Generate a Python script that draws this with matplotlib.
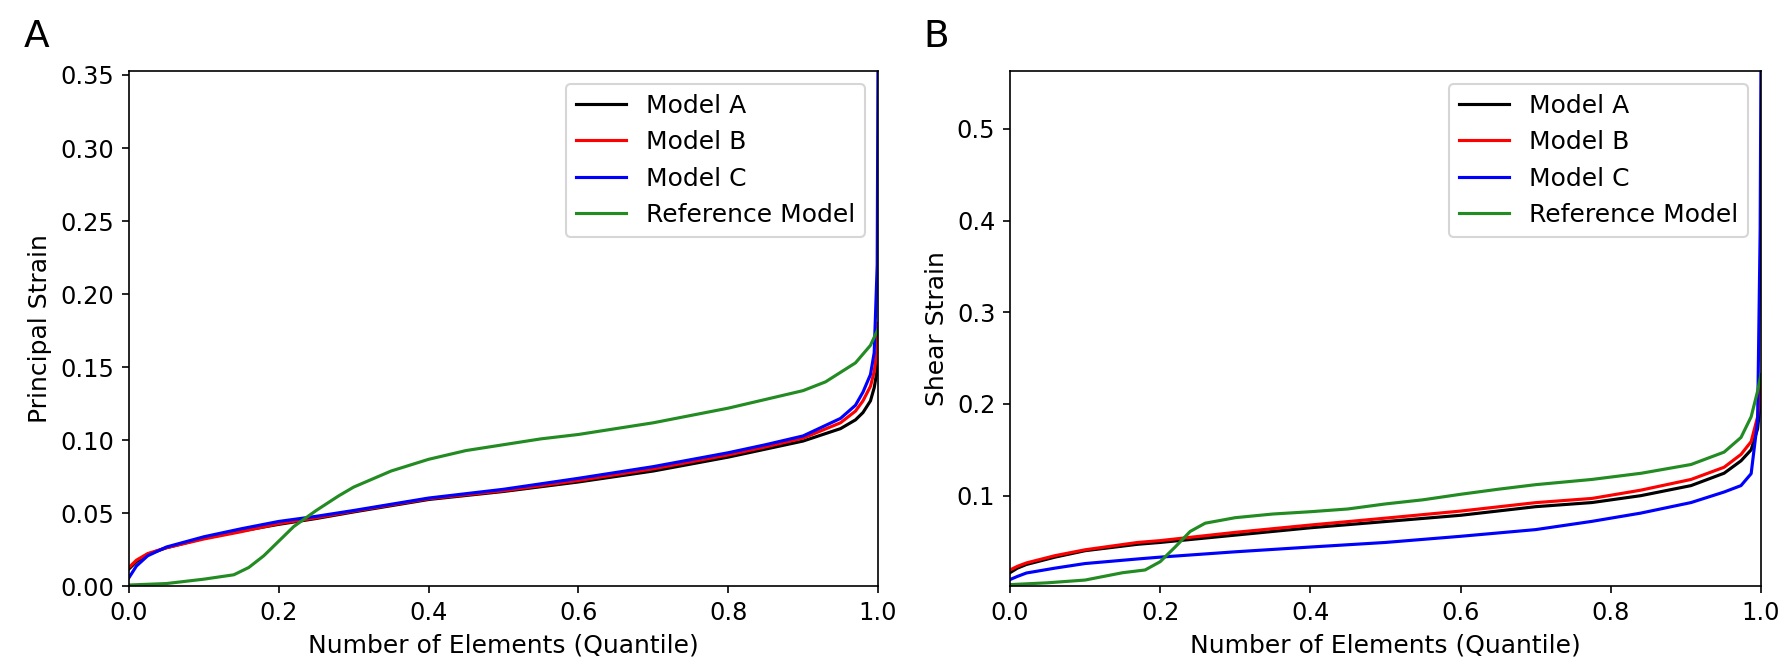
import numpy as np
import matplotlib
matplotlib.use("Agg")
import matplotlib.pyplot as plt

labels = ["Model A", "Model B", "Model C", "Reference Model"]
colors = ["black", "red", "blue", "forestgreen"]

# panel A: principal strain vs quantile
qA = [0, 0.01, 0.025, 0.05, 0.1, 0.15, 0.2, 0.25, 0.3, 0.4, 0.5, 0.6, 0.7,
      0.8, 0.85, 0.9, 0.95, 0.97, 0.98, 0.99, 0.995, 0.999, 1.0]
a_model_a = [0.012, 0.017, 0.022, 0.0265, 0.033, 0.038, 0.0425, 0.0465, 0.051,
             0.0595, 0.065, 0.0715, 0.079, 0.0885, 0.094, 0.0995, 0.108, 0.114,
             0.119, 0.127, 0.136, 0.148, 0.165]
a_model_b = [0.013, 0.018, 0.0225, 0.0265, 0.0325, 0.0375, 0.043, 0.047, 0.0515,
             0.060, 0.0655, 0.0725, 0.0805, 0.090, 0.0955, 0.1015, 0.112, 0.120,
             0.127, 0.137, 0.147, 0.162, 0.18]
a_model_c = [0.006, 0.014, 0.021, 0.027, 0.034, 0.0395, 0.0445, 0.048, 0.052,
             0.0605, 0.0665, 0.074, 0.082, 0.0915, 0.097, 0.103, 0.115, 0.124,
             0.133, 0.145, 0.16, 0.22, 0.353]
qA_ref = [0, 0.05, 0.1, 0.14, 0.16, 0.18, 0.2, 0.22, 0.25, 0.28, 0.3, 0.35, 0.4,
          0.45, 0.5, 0.55, 0.6, 0.65, 0.7, 0.75, 0.8, 0.85, 0.9, 0.93, 0.97,
          0.99, 1.0]
a_ref = [0.001, 0.002, 0.005, 0.008, 0.013, 0.021, 0.031, 0.041, 0.052, 0.062,
         0.068, 0.079, 0.087, 0.093, 0.097, 0.101, 0.104, 0.108, 0.112, 0.117,
         0.122, 0.128, 0.134, 0.140, 0.153, 0.165, 0.176]

# panel B: shear strain vs quantile
qB = [0, 0.01, 0.022, 0.06, 0.1, 0.17, 0.2, 0.3, 0.4, 0.5, 0.6, 0.7, 0.775,
      0.84, 0.907, 0.951, 0.9735, 0.987, 0.9956, 0.999, 1.0]
b_model_a = [0.016, 0.021, 0.025, 0.033, 0.040, 0.047, 0.049, 0.057, 0.065,
             0.0718, 0.0786, 0.088, 0.0925, 0.100, 0.111, 0.1245, 0.138, 0.150,
             0.173, 0.20, 0.22]
b_model_b = [0.019, 0.023, 0.0267, 0.0346, 0.041, 0.049, 0.051, 0.060, 0.068,
             0.0755, 0.0832, 0.0924, 0.097, 0.106, 0.1177, 0.131, 0.145, 0.159,
             0.186, 0.21, 0.23]
b_model_c = [0.0085, 0.012, 0.0157, 0.021, 0.026, 0.031, 0.033, 0.0388, 0.044,
             0.049, 0.0557, 0.063, 0.072, 0.081, 0.0925, 0.104, 0.111, 0.124,
             0.182, 0.39, 0.563]
qB_ref = [0, 0.05, 0.1, 0.15, 0.18, 0.2, 0.22, 0.24, 0.26, 0.3, 0.35, 0.4, 0.45,
          0.5, 0.55, 0.6, 0.65, 0.7, 0.775, 0.841, 0.907, 0.951, 0.9735, 0.987,
          0.9956, 1.0]
b_ref = [0.003, 0.005, 0.008, 0.016, 0.019, 0.028, 0.044, 0.061, 0.070, 0.076,
         0.080, 0.0825, 0.0855, 0.091, 0.0955, 0.1015, 0.107, 0.112, 0.1177,
         0.1245, 0.134, 0.1475, 0.1635, 0.186, 0.214, 0.232]

fig = plt.figure(figsize=(1791 / 150, 660 / 150), dpi=150)
axA = fig.add_axes([0.0720, 0.1114, 0.4182, 0.7810])
axB = fig.add_axes([0.5639, 0.1114, 0.4193, 0.7810])

seriesA = [(qA, a_model_a), (qA, a_model_b), (qA, a_model_c), (qA_ref, a_ref)]
seriesB = [(qB, b_model_a), (qB, b_model_b), (qB, b_model_c), (qB_ref, b_ref)]

for (xs, ys), c, lab in zip(seriesA, colors, labels):
    axA.plot(xs, ys, color=c, lw=1.5, label=lab)
for (xs, ys), c, lab in zip(seriesB, colors, labels):
    axB.plot(xs, ys, color=c, lw=1.5, label=lab)

axA.set_xlim(0, 1)
axA.set_ylim(0, 0.3527)
axA.set_yticks([0, 0.05, 0.1, 0.15, 0.2, 0.25, 0.3, 0.35])
axA.set_ylabel("Principal Strain", fontsize=12)

axB.set_xlim(0, 1)
axB.set_ylim(0.001, 0.563)
axB.set_yticks([0.1, 0.2, 0.3, 0.4, 0.5])
axB.set_ylabel("Shear Strain", fontsize=12)

for ax in (axA, axB):
    ax.set_xticks([0, 0.2, 0.4, 0.6, 0.8, 1.0])
    ax.set_xlabel("Number of Elements (Quantile)", fontsize=12)
    ax.tick_params(labelsize=11.5)
    ax.legend(loc="upper right", fontsize=12)

fig.text(24 / 1791, 1 - 47 / 660, "A", fontsize=18)
fig.text(923 / 1791, 1 - 47 / 660, "B", fontsize=18)

fig.savefig("out.png", dpi=150)
